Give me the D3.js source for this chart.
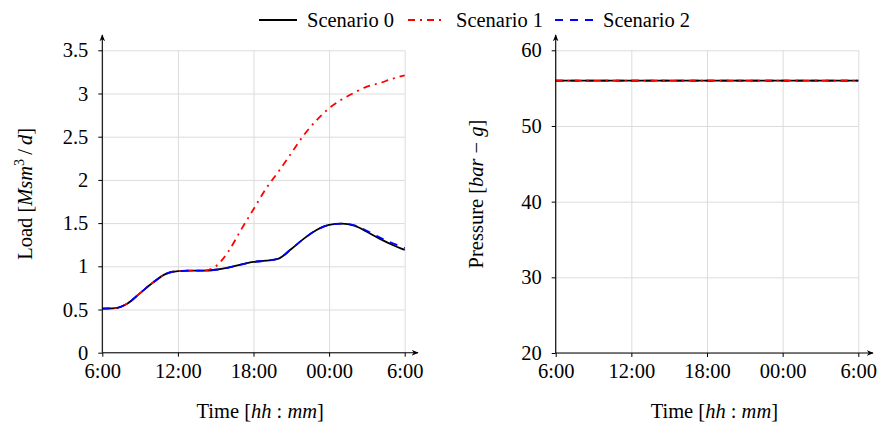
<!DOCTYPE html>
<html>
<head>
<meta charset="utf-8">
<script src="https://cdn.jsdelivr.net/npm/d3@7"></script>
<style>
  html, body { margin: 0; padding: 0; background: #fff; }
  svg { display: block; }
  text { font-family: "Liberation Serif", "Times New Roman", serif; fill: #000; }
</style>
</head>
<body>
<svg id="chart" width="877" height="427"></svg>
<script>
// ---------- data ----------
const hours = [0,1,2,3,4,5,6,7,8,9,10,11,12,13,14,15,16,17,18,19,20,21,22,23,24];
const load0 = [0.51,0.515,0.57,0.69,0.81,0.91,0.945,0.95,0.95,0.96,0.985,1.02,1.05,1.065,1.09,1.20,1.32,1.42,1.48,1.495,1.47,1.40,1.32,1.25,1.19];
const load1 = [0.51,0.515,0.57,0.69,0.81,0.91,0.945,0.95,0.95,1.00,1.17,1.42,1.66,1.90,2.10,2.31,2.52,2.69,2.83,2.93,3.01,3.08,3.12,3.17,3.21];
const load2 = [0.51,0.515,0.57,0.69,0.81,0.91,0.945,0.95,0.95,0.96,0.985,1.02,1.05,1.065,1.09,1.20,1.32,1.42,1.48,1.495,1.475,1.41,1.335,1.27,1.21];
const pressureHours = [0, 24];
const pressure0 = [56, 56];
const pressure1 = [56, 56];
const pressure2 = [56, 56];
const timeTicks = [0, 6, 12, 18, 24];
const timeTickLabels = ["6:00", "12:00", "18:00", "00:00", "6:00"];
const loadTicks = [0, 0.5, 1, 1.5, 2, 2.5, 3, 3.5];
const loadTickLabels = ["0", "0.5", "1", "1.5", "2", "2.5", "3", "3.5"];
const pressureTicks = [20, 30, 40, 50, 60];
const pressureTickLabels = ["20", "30", "40", "50", "60"];
const seriesNames = ["Scenario 0", "Scenario 1", "Scenario 2"];
const seriesColors = ["#000000", "#ff0000", "#0000ff"];
const seriesDash = [null, "7,5,2,5", "8,7"];

// ---------- setup ----------
const svg = d3.select("#chart");
const FS = 20.5;
const FONT = '"Liberation Serif", "Times New Roman", serif';

const defs = svg.append("defs");
defs.append("marker")
  .attr("id", "arrow")
  .attr("viewBox", "0 0 10 10")
  .attr("refX", 9).attr("refY", 5)
  .attr("markerWidth", 7).attr("markerHeight", 7)
  .attr("markerUnits", "userSpaceOnUse")
  .attr("orient", "auto")
  .append("path")
  .attr("d", "M0,1 L10,5 L0,9 L3,5 Z")
  .attr("fill", "#000");

function drawPanel(cfg) {
  const g = svg.append("g");
  const x = d3.scaleLinear().domain([0, 24]).range([cfg.x0, cfg.x1]);
  const y = d3.scaleLinear().domain(cfg.yDomain).range([cfg.y0, cfg.y1]);

  // grid
  g.append("g")
    .attr("transform", `translate(0,${cfg.y0})`)
    .call(d3.axisBottom(x).tickValues(timeTicks).tickSize(-(cfg.y0 - cfg.y1)).tickFormat(""))
    .call(s => s.select(".domain").remove())
    .call(s => s.selectAll("line").attr("stroke", "#dcdcdc").attr("stroke-width", 1));
  g.append("g")
    .attr("transform", `translate(${cfg.x0},0)`)
    .call(d3.axisLeft(y).tickValues(cfg.ticks).tickSize(-(cfg.x1 - cfg.x0)).tickFormat(""))
    .call(s => s.select(".domain").remove())
    .call(s => s.selectAll("line").attr("stroke", "#dcdcdc").attr("stroke-width", 1));

  // lines
  const line = d3.line().x(d => x(d[0])).y(d => y(d[1])).curve(d3.curveMonotoneX);
  cfg.order.forEach(i => {
    const data = cfg.xs.map((h, k) => [h, cfg.series[i][k]]);
    g.append("path")
      .datum(data)
      .attr("d", line)
      .attr("fill", "none")
      .attr("stroke", seriesColors[i])
      .attr("stroke-width", 1.8)
      .attr("stroke-dasharray", seriesDash[i]);
  });

  // axes with ticks
  const xa = g.append("g")
    .attr("transform", `translate(0,${cfg.y0})`)
    .call(d3.axisBottom(x).tickValues(timeTicks).tickSize(4).tickPadding(5)
      .tickFormat((d, i) => timeTickLabels[i]));
  xa.attr("font-family", FONT).attr("font-size", FS);
  xa.select(".domain").remove();
  xa.selectAll("text").attr("dy", "0.78em");
  xa.selectAll("line").attr("stroke", "#000");

  const ya = g.append("g")
    .attr("transform", `translate(${cfg.x0},0)`)
    .call(d3.axisLeft(y).tickValues(cfg.ticks).tickSize(4).tickPadding(10)
      .tickFormat((d, i) => cfg.tickLabels[i]));
  ya.attr("font-family", FONT).attr("font-size", FS);
  ya.select(".domain").remove();
  ya.selectAll("line").attr("stroke", "#000");

  // axis lines with arrows
  g.append("line")
    .attr("x1", cfg.x0).attr("y1", cfg.y0).attr("x2", cfg.x0).attr("y2", cfg.yTop)
    .attr("stroke", "#000").attr("stroke-width", 1.1).attr("marker-end", "url(#arrow)");
  g.append("line")
    .attr("x1", cfg.x0).attr("y1", cfg.y0).attr("x2", cfg.xRight).attr("y2", cfg.y0)
    .attr("stroke", "#000").attr("stroke-width", 1.1).attr("marker-end", "url(#arrow)");

  // x title
  const xt = g.append("text")
    .attr("x", (cfg.x0 + cfg.xRight) / 2).attr("y", 418)
    .attr("text-anchor", "middle").attr("font-size", FS);
  xt.append("tspan").text("Time ");
  xt.append("tspan").text("[");
  xt.append("tspan").attr("font-style", "italic").text("hh");
  xt.append("tspan").text(" : ");
  xt.append("tspan").attr("font-style", "italic").text("mm");
  xt.append("tspan").text("]");

  // y title
  const yt = g.append("text")
    .attr("transform", `translate(${cfg.yTitleX},${(cfg.y0 + cfg.yTop) / 2}) rotate(-90)`)
    .attr("text-anchor", "middle").attr("font-size", FS);
  cfg.yTitle(yt);
}

drawPanel({
  x0: 102.3, x1: 404.7, xRight: 418,
  y0: 352.7, y1: 50.3, yTop: 35,
  yDomain: [0, 3.5], ticks: loadTicks, tickLabels: loadTickLabels,
  xs: hours, series: [load0, load1, load2], order: [0, 1, 2],
  yTitleX: 32,
  yTitle: t => {
    t.append("tspan").text("Load [");
    t.append("tspan").attr("font-style", "italic").text("Msm");
    t.append("tspan").attr("font-size", 14).attr("dy", -8).text("3");
    t.append("tspan").attr("dy", 8).text("\u2009/\u2009");
    t.append("tspan").attr("font-style", "italic").text("d");
    t.append("tspan").text("]");
  }
});

drawPanel({
  x0: 555.7, x1: 858.3, xRight: 873,
  y0: 353, y1: 50.3, yTop: 35,
  yDomain: [20, 60], ticks: pressureTicks, tickLabels: pressureTickLabels,
  xs: pressureHours, series: [pressure0, pressure1, pressure2], order: [2, 0, 1],
  yTitleX: 483,
  yTitle: t => {
    t.append("tspan").text("Pressure [");
    t.append("tspan").attr("font-style", "italic").text("bar");
    t.append("tspan").text(" \u2212 ");
    t.append("tspan").attr("font-style", "italic").text("g");
    t.append("tspan").text("]");
  }
});

// legend
const legendX = [259, 408, 555];
seriesNames.forEach((name, i) => {
  const lg = svg.append("g").attr("transform", `translate(${legendX[i]},20)`);
  lg.append("line")
    .attr("x1", 0).attr("x2", 38).attr("y1", 0).attr("y2", 0)
    .attr("stroke", seriesColors[i]).attr("stroke-width", 1.8)
    .attr("stroke-dasharray", seriesDash[i]);
  lg.append("text")
    .attr("x", 48).attr("y", 7)
    .attr("font-size", FS).text(name);
});
</script>
</body>
</html>
